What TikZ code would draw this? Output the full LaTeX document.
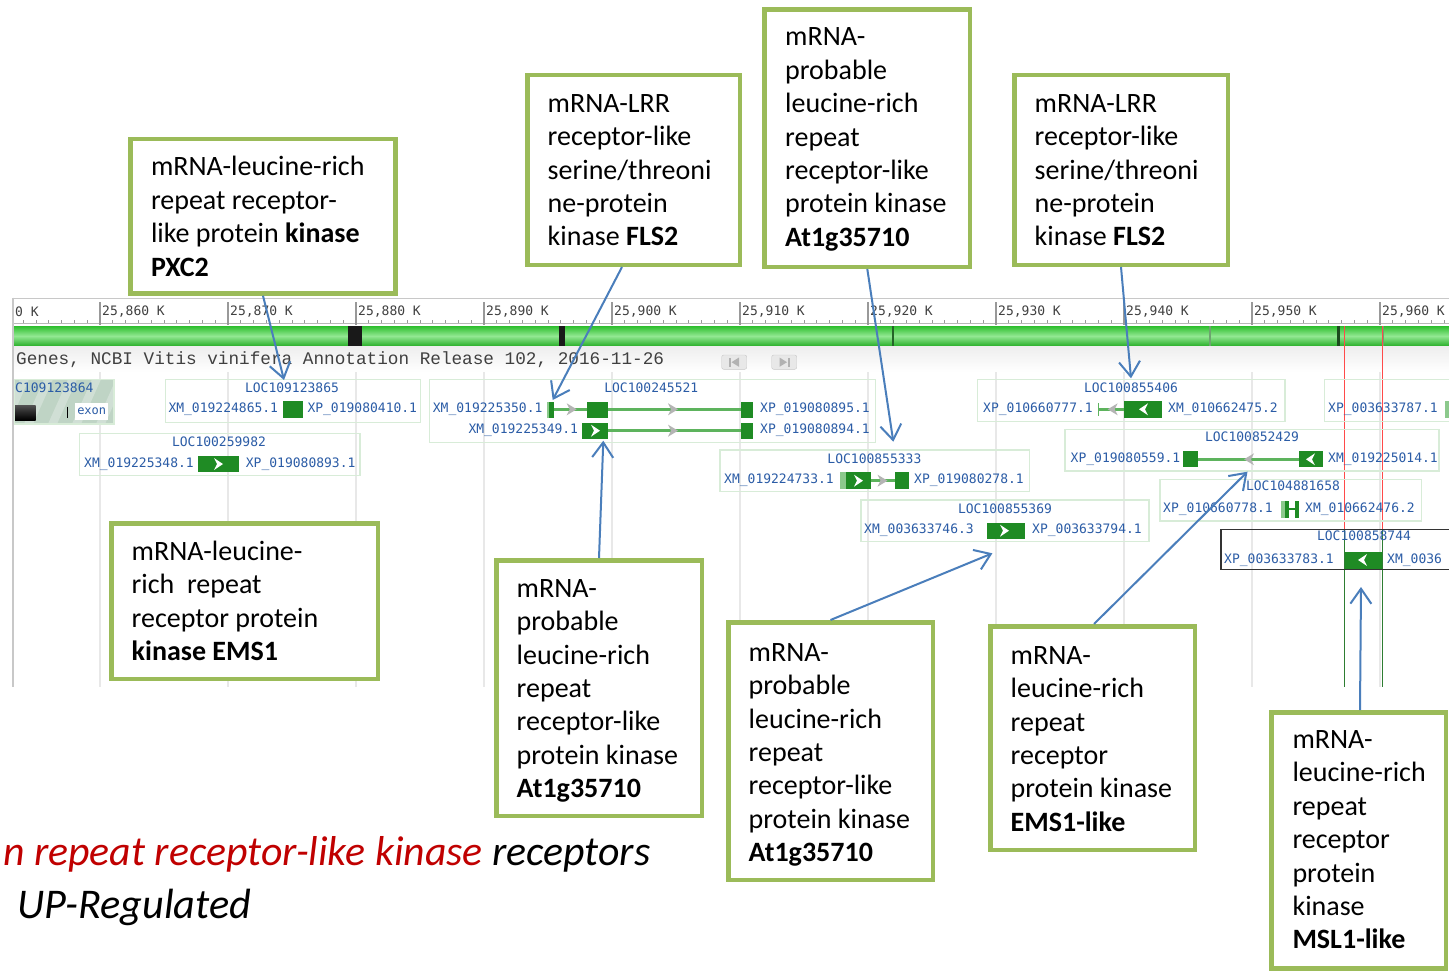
\documentclass[tikz,border=0pt]{standalone}
\usepackage{fontspec}
\setmainfont{Carlito}
\newfontfamily\dvmono{DejaVu Sans Mono}
\newfontfamily\lmono{Liberation Mono}
\usetikzlibrary{arrows.meta}
\definecolor{calgreen}{HTML}{9BBB59}
\definecolor{arrblue}{HTML}{4A7EBB}
\definecolor{lblblue}{HTML}{2B5CA6}
\definecolor{exongreen}{HTML}{1F8B24}
\definecolor{exonlight}{HTML}{8CC98C}
\definecolor{introngreen}{HTML}{5DB35D}
\definecolor{boxgreen}{HTML}{D8ECD8}
\definecolor{gridgray}{HTML}{E8E8E8}
\definecolor{chevgray}{HTML}{B4B4B4}
\definecolor{redtxt}{HTML}{C00000}
\definecolor{barA}{HTML}{2DBE2D}
\definecolor{barB}{HTML}{92E892}
\definecolor{stripe}{HTML}{BFD4C5}
\definecolor{bordergray}{HTML}{C8C8C8}
\definecolor{tickgray}{HTML}{999999}
\definecolor{rultxt}{HTML}{404040}
\definecolor{redline}{HTML}{FF4A4A}
\definecolor{vgreen}{HTML}{2E7D32}
\newcommand\calfont{\fontsize{28}{33.4}\selectfont}
\newcommand\lblfont{\dvmono\fontsize{13}{15}\selectfont}
\newcommand\cstrut{\rule{0pt}{24pt}}
\newcommand\gex[4]{\fill[exongreen] (#1,#3) rectangle (#2,#4);}
\newcommand\wR[2]{\fill[white] ({#1-4},{#2-6}) -- ({#1+5},{#2}) -- ({#1-4},{#2+6}) -- ({#1-1},{#2}) -- cycle;}
\newcommand\wL[2]{\fill[white] ({#1+4},{#2-6}) -- ({#1-5},{#2}) -- ({#1+4},{#2+6}) -- ({#1+1},{#2}) -- cycle;}
\newcommand\gR[2]{\fill[chevgray] ({#1-5},{#2-6}) -- ({#1+5},{#2}) -- ({#1-5},{#2+6}) -- ({#1-2},{#2}) -- cycle;}
\newcommand\gL[2]{\fill[chevgray] ({#1+5},{#2-6}) -- ({#1-5},{#2}) -- ({#1+5},{#2+6}) -- ({#1+2},{#2}) -- cycle;}
\tikzset{
  callout/.style={draw=calgreen, line width=4.5pt, fill=white, inner sep=0pt},
  ctext/.style={anchor=north west, inner sep=0pt, align=left, font=\calfont, text=black},
  lbl/.style={inner sep=0pt, font=\lblfont, text=lblblue},
  lblw/.style={lbl, anchor=west},
  gbox/.style={draw=boxgreen, line width=1.3pt},
  intron/.style={draw=introngreen, line width=2.6pt},
  arr/.style={draw=arrblue, line width=2pt, -{Straight Barb[length=15pt,width=21pt]}},
}
\begin{document}
\begin{tikzpicture}[x=1pt,y=-1pt]
\fill[white] (0,0) rectangle (1449,971);
\useasboundingbox (0,0) rectangle (1449,971);

% ================= genome browser =================
\begin{scope}
\clip (13.3,290) rectangle (1449,690);
\draw[bordergray, line width=1.5pt] (13.3,298.3) -- (1449,298.3);
% ruler
\draw[tickgray!70, line width=1pt] (14,323.5) -- (1449,323.5);
\foreach \i in {0,...,116} \draw[tickgray, line width=1pt] ({-28+12.8*\i},320) -- ({-28+12.8*\i},323);
\node[anchor=west, inner sep=0pt, font=\lblfont, text=rultxt] (rl850) at (15,311.7) {0 K};
\foreach \k in {0,...,10}{
  \pgfmathsetmacro\xx{100+128*\k}
  \pgfmathtruncatemacro\kk{860+10*\k}
  \draw[tickgray, line width=1.2pt] (\xx,302) -- (\xx,325);
  \node[anchor=west, inner sep=0pt, font=\lblfont, text=rultxt] (rl\kk) at (\xx+2,311.7) {25,\kk\ K};
}
% green bar
\shade[top color=barA, bottom color=barA!92!black, middle color=barB] (14,326) rectangle (1449,346);
\fill[black!90] (348.3,326) rectangle (361.7,346);
\fill[black!90] (559.3,326) rectangle (565,346);
\fill[vgreen!80!black] (891.7,326) rectangle (893.7,346);
\fill[vgreen!70] (1209,326) rectangle (1211,346);
\fill[vgreen!60!black] (1336.5,326) rectangle (1339.5,346);
\fill[vgreen!70] (1382,326) rectangle (1384,346);
% band
\shade[top color=gray!14, bottom color=white] (14,346) rectangle (1449,372);
\node[anchor=west, inner sep=0pt, font=\lmono\fontsize{17.7}{20}\selectfont, text=rultxt] (band) at (16,360) {Genes, NCBI Vitis vinifera Annotation Release 102, 2016-11-26};
\draw[rounded corners=2pt, fill=gray!18, draw=gray!45] (721.7,355) rectangle (746.7,369.3);
\fill[gray!60] (729,357.5) rectangle (730.5,366.8);
\fill[gray!60] (739,357.5) -- (731.5,362.2) -- (739,366.8) -- cycle;
\draw[rounded corners=2pt, fill=gray!18, draw=gray!45] (771.7,355) rectangle (796.7,369.3);
\fill[gray!60] (779.5,357.5) -- (787,362.2) -- (779.5,366.8) -- cycle;
\fill[gray!60] (788,357.5) rectangle (789.5,366.8);
% grid
\foreach \k in {0,...,10} \draw[gridgray, line width=1.2pt] ({100+128*\k},372) -- ({100+128*\k},686.7);
% red / green vertical lines
\draw[redline, line width=1.3pt] (1344.3,326) -- (1344.3,529.3);
\draw[redline, line width=1.3pt] (1382.8,326) -- (1382.8,529.3);
\draw[vgreen, line width=1.3pt] (1344.3,529.3) -- (1344.3,686.7);
\draw[vgreen, line width=1.3pt] (1382.8,529.3) -- (1382.8,686.7);

% ---- LOC109123864 (clipped)
\begin{scope}
\clip (14,379.3) rectangle (114,424);
\fill[stripe] (14,379.3) rectangle (114,424);
\foreach \s in {0,24,...,120} \fill[white,opacity=0.28] ({\s},424) -- ({\s+9},424) -- ({\s+29},379.3) -- ({\s+20},379.3) -- cycle;
\end{scope}
\draw[gbox] (14,379.3) rectangle (114,424);
\node[anchor=west, lbl] (t864) at (15,387.7) {C109123864};
\shade[top color=gray!65!black, bottom color=black, middle color=black!85] (15,405) rectangle (35.7,420);
\draw[black, line width=1.5pt] (67.7,406.7) -- (67.7,418.3);
\node[lbl, fill=white, minimum width=33pt, minimum height=16.7pt, font=\dvmono\fontsize{12}{14}\selectfont] (exonlbl) at (91.7,411.7) {exon};

% ---- LOC109123865
\draw[gbox] (165.3,379.3) rectangle (420.7,422.3);
\node[lbl] (t865) at (292,387.7) {LOC109123865};
\node[lblw] (a865) at (168.3,409.3) {XM\_019224865.1};
\gex{283.3}{302.7}{401}{418.3}
\node[lblw] (b865) at (307.3,409.3) {XP\_019080410.1};

% ---- LOC100259982
\draw[gbox] (79.3,433.3) rectangle (360,475.7);
\node[lbl] (t982) at (219,441.7) {LOC100259982};
\node[lblw] (a982) at (84,464) {XM\_019225348.1};
\gex{198.3}{239}{455.7}{472.3}
\wR{218}{464}
\node[lblw] (b982) at (245.7,464) {XP\_019080893.1};

% ---- LOC100245521
\draw[gbox] (429.3,379.3) rectangle (875.7,442.7);
\node[lbl] (t521) at (651.3,387.7) {LOC100245521};
\node[lblw] (a521) at (432.7,409.3) {XM\_019225350.1};
\draw[intron] (554,409.3) -- (740.7,409.3);
\fill[exonlight] (546.7,401.7) rectangle (549.3,417.7);
\gex{549.3}{554.3}{401.7}{417.7}
\gR{571.7}{409.3}
\gR{673}{409.3}
\gex{587.3}{608.3}{401.7}{417.7}
\gex{740.7}{753.3}{401.7}{417.7}
\node[lblw] (b521) at (760,409.3) {XP\_019080895.1};
\node[lblw] (c521) at (468.3,430.7) {XM\_019225349.1};
\draw[intron] (608,430.7) -- (740.7,430.7);
\gex{582.3}{608.3}{422.7}{438.7}
\wR{595}{430.7}
\gR{673}{430.7}
\gex{740.7}{753.3}{422.7}{438.7}
\node[lblw] (d521) at (760,430.7) {XP\_019080894.1};

% ---- LOC100855333
\draw[gbox] (720,450) rectangle (1029.7,491.7);
\node[lbl] (t333) at (874.4,458.3) {LOC100855333};
\node[lblw] (a333) at (724,480.7) {XM\_019224733.1};
\draw[intron] (870,480.7) -- (895,480.7);
\fill[exonlight] (839.5,472.3) rectangle (845.7,489);
\gex{845.7}{870.6}{472.3}{489}
\wR{858}{480.7}
\gR{882.5}{480.7}
\gex{895}{908.8}{472.3}{489}
\node[lblw] (b333) at (914,480.7) {XP\_019080278.1};

% ---- LOC100855369
\draw[gbox] (861,500) rectangle (1149,541.7);
\node[lbl] (t369) at (1005,508.3) {LOC100855369};
\node[lblw] (a369) at (864,530.7) {XM\_003633746.3};
\gex{986.7}{1025}{522.7}{539.3}
\wR{1004}{530.7}
\node[lblw] (b369) at (1032,530.7) {XP\_003633794.1};

% ---- LOC100855406
\draw[gbox] (977.7,379.3) rectangle (1285,421.7);
\node[lbl] (t406) at (1131,387.7) {LOC100855406};
\node[lblw] (a406) at (983,409.3) {XP\_010660777.1};
\draw[intron] (1098.5,409.3) -- (1124,409.3);
\draw[introngreen, line width=1.5pt] (1098.5,403) -- (1098.5,415.6);
\gL{1112.7}{409.3}
\gex{1124}{1162}{401}{418}
\wL{1144}{409.3}
\node[lblw] (b406) at (1168,409.3) {XM\_010662475.2};

% ---- partial box at right
\draw[gbox] (1324.7,379.3) rectangle (1460,421.7);
\node[lblw] (a787) at (1328,409.3) {XP\_003633787.1};
\fill[exonlight] (1444.5,401) rectangle (1449,418);

% ---- LOC100852429
\draw[gbox] (1065,429.3) rectangle (1439,471);
\node[lbl] (t429) at (1252,436.7) {LOC100852429};
\node[lblw] (a429) at (1070.5,459.3) {XP\_019080559.1};
\draw[intron] (1198,459.3) -- (1299,459.3);
\gex{1182.7}{1198.3}{451}{467.3}
\gL{1249}{459.3}
\gex{1299}{1322.7}{451}{467.3}
\wL{1311}{459.3}
\node[lblw] (b429) at (1328,459.3) {XM\_019225014.1};

% ---- LOC104881658
\draw[gbox] (1160,479.3) rectangle (1421.7,521);
\node[lbl] (t658) at (1293,486) {LOC104881658};
\node[lblw] (a658) at (1163,509.3) {XP\_010660778.1};
\fill[exonlight] (1280.7,501) rectangle (1285,517.5);
\gex{1285}{1289}{501}{517.5}
\gex{1294.5}{1298.5}{501}{517.5}
\draw[exongreen, line width=2pt] (1289,509.3) -- (1294.5,509.3);
\node[lblw] (b658) at (1305,509.3) {XM\_010662476.2};

% ---- LOC100858744 (selected)
\draw[black!80, line width=1.5pt] (1220.8,529.3) rectangle (1460,569.3);
\node[lbl] (t744) at (1364,535.7) {LOC100858744};
\node[lblw] (a744) at (1224,560) {XP\_003633783.1};
\gex{1345}{1382.3}{551.7}{569.3}
\wL{1363}{560}
\node[lblw] (b744) at (1387,560) {XM\_0036};
\end{scope}
\draw[bordergray, line width=2pt] (13.3,297.5) -- (13.3,687);

% ================= target points =================
\coordinate (pA) at (284,380);
\coordinate (pB) at (552.7,400);
\coordinate (pC) at (893.3,441.7);
\coordinate (pD) at (1131,378.3);
\coordinate (pF) at (603.3,440.7);
\coordinate (pG) at (992.4,553.3);
\coordinate (pH) at (1247.5,471.7);
\coordinate (pI) at (1361,587);

% ================= callouts =================
\node[callout, minimum width=265pt, minimum height=154.5pt] (cA) at (263,216.2) {};
\node[ctext] (xA) at (150.8,151.7) {\cstrut mRNA-leucine-rich\\repeat receptor-\\like protein \textbf{kinase}\\\textbf{PXC2}};

\node[callout, minimum width=212.5pt, minimum height=189.5pt] (cB) at (633.5,170) {};
\node[ctext] (xB) at (547.5,88) {\cstrut mRNA-LRR\\receptor-like\\serine/threoni\\ne-protein\\kinase \textbf{FLS2}};

\node[callout, minimum width=205.5pt, minimum height=257.2pt] (cC) at (867.3,138.15) {};
\node[ctext] (xC) at (785,21.7) {\cstrut mRNA-\\probable\\leucine-rich\\repeat\\receptor-like\\protein kinase\\\textbf{At1g35710}};

\node[callout, minimum width=213.5pt, minimum height=189.5pt] (cD) at (1121,170) {};
\node[ctext] (xD) at (1034.5,88) {\cstrut mRNA-LRR\\receptor-like\\serine/threoni\\ne-protein\\kinase \textbf{FLS2}};

\node[callout, minimum width=266.5pt, minimum height=155.5pt] (cE) at (244.5,601) {};
\node[ctext] (xE) at (131.5,536) {\cstrut mRNA-leucine-\\rich~ repeat\\receptor protein\\\textbf{kinase EMS1}};

\node[callout, minimum width=205.5pt, minimum height=255.5pt] (cF) at (599,688) {};
\node[ctext] (xF) at (516.5,573) {\cstrut mRNA-\\probable\\leucine-rich\\repeat\\receptor-like\\protein kinase\\\textbf{At1g35710}};

\node[callout, minimum width=204.5pt, minimum height=257.5pt] (cG) at (830.5,751) {};
\node[ctext] (xG) at (748.5,637) {\cstrut mRNA-\\probable\\leucine-rich\\repeat\\receptor-like\\protein kinase\\\textbf{At1g35710}};

\node[callout, minimum width=204.5pt, minimum height=223.5pt] (cH) at (1092.5,738) {};
\node[ctext] (xH) at (1010.5,640) {\cstrut mRNA-\\leucine-rich\\repeat\\receptor\\protein kinase\\\textbf{EMS1-like}};

\node[callout, minimum width=174.5pt, minimum height=256.2pt] (cI) at (1358.8,840.35) {};
\node[ctext] (xI) at (1292.3,724.3) {\cstrut mRNA-\\leucine-rich\\repeat\\receptor\\protein\\kinase\\\textbf{MSL1-like}};

% ================= arrows =================
\draw[arr] (cA.south) -- (pA);
\draw[arr] ([xshift=-11.5pt]cB.south) -- (pB);
\draw[arr] (cC.south) -- (pC);
\draw[arr] (cD.south) -- (pD);
\draw[arr] (cF.north) -- (pF);
\draw[arr] (cG.north) -- (pG);
\draw[arr] ([xshift=1.5pt]cH.north) -- (pH);
\draw[arr] ([xshift=1.2pt]cI.north) -- (pI);

% ================= bottom caption =================
\node[anchor=base west, inner sep=0pt, font=\fontsize{41.8}{50}\selectfont\itshape] (cap1) at (3,865) {\textcolor{redtxt}{n repeat receptor-like kinase} receptors};
\node[anchor=base west, inner sep=0pt, font=\fontsize{42.3}{50}\selectfont\itshape] (cap2) at (17,918.3) {UP-Regulated};
\end{tikzpicture}
\end{document}
